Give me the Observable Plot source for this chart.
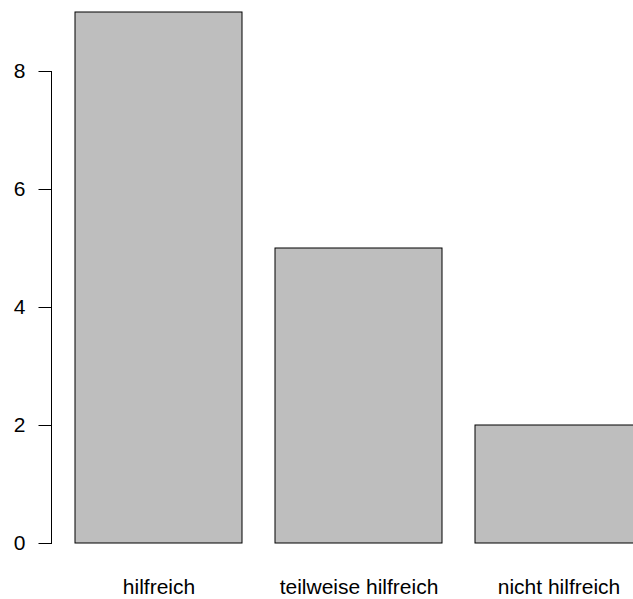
<!DOCTYPE html>
<html>
<head>
<meta charset="utf-8">
<script src="https://cdn.jsdelivr.net/npm/d3@7"></script>
<script src="https://cdn.jsdelivr.net/npm/@observablehq/plot@0.6"></script>
<style>
  html, body { margin: 0; padding: 0; background: #fff; overflow: hidden; }
  svg { display: block; overflow: hidden; }
</style>
</head>
<body>
<div id="chart"></div>
<script>
const categories = ["hilfreich", "teilweise hilfreich", "nicht hilfreich"];
const counts = [9, 5, 2];
const yTicks = [0, 2, 4, 6, 8];

const data = categories.map((c, i) => ({category: c, count: counts[i]}));

const chart = Plot.plot({
  width: 633,
  height: 599,
  marginLeft: 51,
  marginTop: 71,
  marginBottom: 56,
  marginRight: 0,
  style: {fontFamily: "'Liberation Sans', Arial, Helvetica, sans-serif", fontSize: "21px", color: "#000", background: "#fff"},
  x: {type: "band", domain: categories, range: [74.5, 642.3], paddingInner: 1/6, paddingOuter: 0},
  y: {domain: [0, 9], range: [543, 12]},
  marks: [
    Plot.barY(data, {x: "category", y: "count", fill: "#BEBEBE", stroke: "#000", strokeWidth: 1}),
    Plot.frame({anchor: "left", stroke: "#000", strokeWidth: 1}),
    Plot.axisY({anchor: "left", ticks: yTicks, tickSize: 12.5, tickPadding: 13.5, label: null, fontSize: 21, stroke: "#000"}),
    Plot.axisX({anchor: "bottom", tickSize: 0, tickPadding: 36, label: null, fontSize: 21})
  ]
});
document.getElementById("chart").appendChild(chart);
</script>
</body>
</html>
